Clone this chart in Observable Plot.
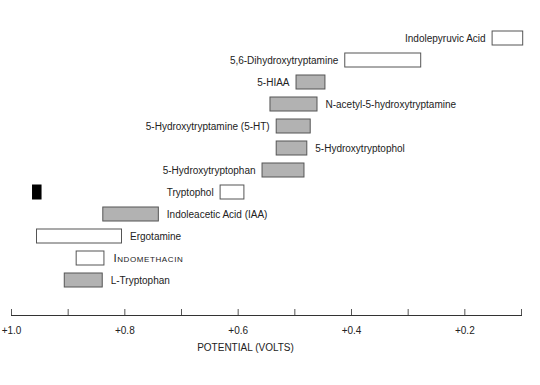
<!DOCTYPE html>
<html>
<head>
<meta charset="utf-8">
<script src="https://cdn.jsdelivr.net/npm/d3@7"></script>
<script src="https://cdn.jsdelivr.net/npm/@observablehq/plot@0.6"></script>
<style>
  html, body { margin: 0; padding: 0; background: #fff; }
  #chart svg { display: block; }
  .sc-label text { letter-spacing: 0.6px; }
</style>
</head>
<body>
<div id="chart"></div>
<script>
// Compounds (top to bottom)
const names = [
  "Indolepyruvic Acid",
  "5,6-Dihydroxytryptamine",
  "5-HIAA",
  "N-acetyl-5-hydroxytryptamine",
  "5-Hydroxytryptamine (5-HT)",
  "5-Hydroxytryptophol",
  "5-Hydroxytryptophan",
  "Tryptophol",
  "Indoleacetic Acid (IAA)",
  "Ergotamine",
  "Indomethacin",
  "L-Tryptophan"
];
// Potential range (volts): high end (left) and low end (right)
const highV = [0.151, 0.411, 0.497, 0.543, 0.532, 0.532, 0.557, 0.631, 0.838, 0.955, 0.885, 0.906];
const lowV  = [0.097, 0.277, 0.446, 0.460, 0.472, 0.478, 0.483, 0.589, 0.740, 0.805, 0.836, 0.839];
const shaded = [false, false, true, true, true, true, true, false, true, false, false, true];
const labelSide = ["left", "left", "left", "right", "left", "right", "left", "left", "right", "right", "right", "right"];
const smallCaps = [false, false, false, false, false, false, false, false, false, false, true, false];

// Solid black marker
const markerRow = ["Tryptophol"];
const markerHigh = [0.962];
const markerLow = [0.947];

// Axis
const tickValues = [1.0, 0.9, 0.8, 0.7, 0.6, 0.5, 0.4, 0.3, 0.2, 0.1];
const tickLabelValues = [1.0, 0.8, 0.6, 0.4, 0.2];
const axisTitle = "POTENTIAL (VOLTS)";

const rows = names.map((n, i) => ({
  name: n, hi: highV[i], lo: lowV[i], shaded: shaded[i], side: labelSide[i], sc: smallCaps[i]
}));
const markers = markerRow.map((n, i) => ({name: n, hi: markerHigh[i], lo: markerLow[i]}));

const font = "'Liberation Sans', Arial, Helvetica, sans-serif";
const H = 385, MT = 31, MB = 70;

const chart = Plot.plot({
  width: 540,
  height: H,
  marginTop: MT,
  marginBottom: MB,
  marginLeft: 11,
  marginRight: 19,
  style: {fontFamily: font, fontSize: "10px", color: "#222", background: "#fff"},
  x: {domain: [1.0, 0.1], axis: null},
  y: {domain: names, paddingInner: 0.365, paddingOuter: 0.62, align: 0, axis: null},
  marks: [
    Plot.barX(rows, {
      y: "name", x1: "hi", x2: "lo",
      fill: d => d.shaded ? "#b2b2b2" : "#ffffff",
      stroke: "#555", strokeWidth: 1
    }),
    Plot.barX(markers, {y: "name", x1: "hi", x2: "lo", fill: "#000", stroke: "#000", strokeWidth: 1}),
    Plot.text(rows.filter(d => d.side === "left" && !d.sc), {
      y: "name", x: "hi", text: "name", textAnchor: "end", dx: -7, fill: "#222"
    }),
    Plot.text(rows.filter(d => d.side === "right" && !d.sc), {
      y: "name", x: "lo", text: "name", textAnchor: "start", dx: 8, fill: "#222"
    }),
    Plot.text(rows.filter(d => d.sc), {
      y: "name", x: "lo", text: "name", textAnchor: "start", dx: 9, fill: "#222",
      fontVariant: "small-caps", fontSize: 11.5, className: "sc-label"
    }),
    Plot.frame({anchor: "bottom", stroke: "#333"}),
    Plot.ruleX(tickValues, {x: d => d, insetTop: (H - MT - MB) - 6, stroke: "#555", strokeWidth: 1}),
    Plot.axisX({
      ticks: tickLabelValues,
      tickFormat: d => "+" + d.toFixed(1),
      tickSize: 0,
      tickPadding: 11,
      label: null,
      fill: "#222"
    }),
    Plot.text([axisTitle], {frameAnchor: "bottom", dy: 35, dx: -21, text: d => d, fill: "#222"})
  ]
});
document.getElementById("chart").appendChild(chart);
</script>
</body>
</html>
